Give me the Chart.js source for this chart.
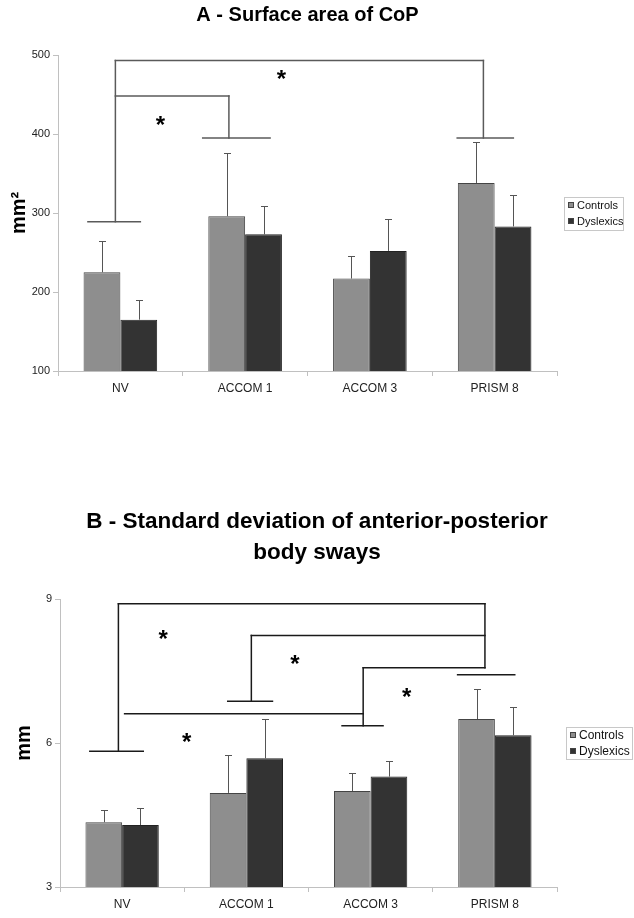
<!DOCTYPE html>
<html><head><meta charset="utf-8">
<script src="https://cdn.jsdelivr.net/npm/chart.js@4"></script>
<style>
html,body{margin:0;padding:0;background:#fff;}
#wrap{position:relative;width:634px;height:918px;}
canvas{position:absolute;left:0;}
</style></head><body>
<div id="wrap">
<canvas id="cA" width="634" height="460" style="top:0px"></canvas>
<canvas id="cB" width="634" height="458" style="top:460px"></canvas>
</div>
<script>
// ---- data ----
const categories = ['NV', 'ACCOM 1', 'ACCOM 3', 'PRISM 8'];
const seriesNames = ['Controls', 'Dyslexics'];

const surfaceControls = [225, 296, 217, 338];
const surfaceControlsErr = [39, 80, 28, 52];
const surfaceDyslexics = [165, 273, 252, 283];
const surfaceDyslexicsErr = [25, 36, 40, 40];
const surfaceTicks = [100, 200, 300, 400, 500];

const swayControls = [4.35, 4.96, 5.00, 6.50];
const swayControlsErr = [0.26, 0.80, 0.37, 0.63];
const swayDyslexics = [4.29, 5.68, 5.30, 6.16];
const swayDyslexicsErr = [0.35, 0.83, 0.33, 0.58];
const swayTicks = [3, 6, 9];

// significance brackets: segments [catIndexFrom, valueFrom, catIndexTo, valueTo]
const surfaceBrackets = [
  [-0.26, 289, 0.16, 289],
  [-0.04, 289, -0.04, 493],
  [-0.04, 493, 2.91, 493],
  [2.91, 493, 2.91, 395],
  [2.70, 395, 3.15, 395],
  [-0.04, 448, 0.87, 448],
  [0.87, 448, 0.87, 395],
  [0.66, 395, 1.20, 395]
];
const surfaceStars = [[0.32, 418], [1.29, 476]];

const swayBrackets = [
  [-0.26, 5.83, 0.17, 5.83],
  [-0.03, 5.83, -0.03, 8.90],
  [-0.03, 8.90, 2.92, 8.90],
  [2.92, 8.90, 2.92, 7.57],
  [2.70, 7.42, 3.16, 7.42],
  [1.04, 8.24, 2.92, 8.24],
  [1.04, 8.24, 1.04, 6.87],
  [0.85, 6.87, 1.21, 6.87],
  [1.94, 7.57, 2.92, 7.57],
  [1.94, 7.57, 1.94, 6.36],
  [1.77, 6.36, 2.10, 6.36],
  [0.02, 6.61, 1.94, 6.61]
];
const swayStars = [[0.33, 8.27], [1.39, 7.76], [0.52, 6.13], [2.29, 7.07]];

// ---- styles ----
const FONT = "'Liberation Sans', Arial, sans-serif";
const CONTROL_COLOR = '#8e8e8e';
const DYSLEXIC_COLOR = '#333333';

const overlayPlugin = {
  id: 'overlay',
  afterDatasetsDraw(chart, args, opts) {
    const ctx = chart.ctx, xs = chart.scales.x, ys = chart.scales.y;
    const px = v => Math.round(v) + 0.5;
    // error bars
    ctx.save();
    ctx.strokeStyle = '#555';
    ctx.lineWidth = 1;
    chart.data.datasets.forEach((ds, i) => {
      chart.getDatasetMeta(i).data.forEach((bar, j) => {
        const top = ys.getPixelForValue(ds.data[j] + ds.errors[j]);
        const bx = px(bar.x);
        ctx.beginPath();
        ctx.moveTo(bx, bar.y);
        ctx.lineTo(bx, px(top));
        ctx.moveTo(bx - 3.5, px(top));
        ctx.lineTo(bx + 3.5, px(top));
        ctx.stroke();
      });
    });
    ctx.restore();
    // brackets
    ctx.save();
    ctx.strokeStyle = opts.lineColor;
    ctx.lineWidth = opts.lineWidth;
    ctx.lineCap = 'square';
    opts.brackets.forEach(s => {
      ctx.beginPath();
      ctx.moveTo(xs.getPixelForValue(s[0]), ys.getPixelForValue(s[1]));
      ctx.lineTo(xs.getPixelForValue(s[2]), ys.getPixelForValue(s[3]));
      ctx.stroke();
    });
    ctx.fillStyle = '#000';
    ctx.font = 'bold 24px ' + FONT;
    ctx.textAlign = 'center';
    ctx.textBaseline = 'alphabetic';
    opts.stars.forEach(s => {
      ctx.fillText('*', xs.getPixelForValue(s[0]), ys.getPixelForValue(s[1]) + 0.56 * 24);
    });
    ctx.restore();
  },
  afterDraw(chart, args, opts) {
    const ctx = chart.ctx, ca = chart.chartArea;
    const lg = opts.legend;
    const cy = (ca.top + ca.bottom) / 2;
    const left = ca.right + lg.gap, top = cy - lg.h / 2;
    ctx.save();
    ctx.strokeStyle = '#c8c8c8';
    ctx.lineWidth = 1;
    ctx.strokeRect(Math.round(left) + 0.5, Math.round(top) + 0.5, lg.w, lg.h);
    ctx.font = lg.font + 'px ' + FONT;
    ctx.textBaseline = 'middle';
    ctx.textAlign = 'left';
    chart.data.datasets.forEach((ds, i) => {
      const iy = top + lg.h / 2 + (i - 0.5) * lg.step;
      ctx.fillStyle = ds.backgroundColor;
      ctx.strokeStyle = '#444';
      ctx.fillRect(Math.round(left + 4), Math.round(iy - 3), 6, 6);
      ctx.strokeRect(Math.round(left + 4) + 0.5, Math.round(iy - 3) + 0.5, 5, 5);
      ctx.fillStyle = '#111';
      ctx.fillText(ds.label, left + 13, iy + 0.5);
    });
    ctx.restore();
  }
};

function makeChart(id, cfg) {
  return new Chart(document.getElementById(id), {
    type: 'bar',
    data: {
      labels: categories,
      datasets: [
        { label: seriesNames[0], data: cfg.controls, errors: cfg.controlsErr,
          backgroundColor: CONTROL_COLOR, borderColor: '#444', borderWidth: 1,
          categoryPercentage: 0.59, barPercentage: 1.0 },
        { label: seriesNames[1], data: cfg.dyslexics, errors: cfg.dyslexicsErr,
          backgroundColor: DYSLEXIC_COLOR, borderColor: '#222', borderWidth: 1,
          categoryPercentage: 0.59, barPercentage: 1.0 }
      ]
    },
    options: {
      responsive: false,
      animation: false,
      layout: { padding: 0 },
      plugins: {
        legend: { display: false },
        tooltip: { enabled: false },
        title: {
          display: true, text: cfg.title, color: '#000', fullSize: cfg.titleFull,
          font: { family: FONT, size: cfg.titleSize, weight: 'bold', lineHeight: cfg.titleLH },
          padding: cfg.titlePad
        },
        overlay: {
          brackets: cfg.brackets, stars: cfg.stars,
          lineColor: cfg.lineColor, lineWidth: cfg.lineWidth,
          legend: cfg.legend
        }
      },
      scales: {
        x: {
          grid: { display: true, drawOnChartArea: false, tickLength: 5, color: '#c0c0c0', offset: true },
          border: { color: '#c0c0c0' },
          ticks: { color: '#222', font: { family: FONT, size: 12 }, padding: 5, maxRotation: 0 },
          afterFit(scale) { scale.height = cfg.xHeight; }
        },
        y: {
          min: cfg.min, max: cfg.max,
          afterBuildTicks(scale) { scale.ticks = cfg.ticks.map(v => ({ value: v })); },
          grid: { display: true, drawOnChartArea: false, tickLength: 5, color: '#c0c0c0' },
          border: { color: '#c0c0c0' },
          ticks: { color: '#222', font: { family: FONT, size: 11 }, padding: 3 },
          title: { display: true, text: cfg.yTitle, color: '#000',
                   font: { family: FONT, size: 20, weight: 'bold' }, padding: { top: cfg.yTitlePad, bottom: 0 } },
          afterFit(scale) { scale.width = cfg.yWidth; }
        },
        legendSpace: {
          type: 'linear', position: 'right', display: true,
          grid: { display: false }, border: { display: false }, ticks: { display: false },
          afterFit(scale) { scale.width = 77; }
        }
      }
    },
    plugins: [overlayPlugin]
  });
}

makeChart('cA', {
  title: 'A - Surface area of CoP', titleSize: 20, titleLH: 1.2, titleFull: false,
  titlePad: { top: 3, bottom: 28 },
  controls: surfaceControls, controlsErr: surfaceControlsErr,
  dyslexics: surfaceDyslexics, dyslexicsErr: surfaceDyslexicsErr,
  min: 100, max: 500, ticks: surfaceTicks,
  yTitle: 'mm²', yTitlePad: 7, yWidth: 58, xHeight: 89,
  brackets: surfaceBrackets, stars: surfaceStars,
  lineColor: '#5a5a5a', lineWidth: 1.5,
  legend: { gap: 7, w: 59, h: 33, step: 16, font: 11 }
});

makeChart('cB', {
  title: ['B - Standard deviation of anterior-posterior', 'body sways'],
  titleSize: 22.5, titleLH: 31 / 22.5, titleFull: true,
  titlePad: { top: 46.5, bottom: 30.5 },
  controls: swayControls, controlsErr: swayControlsErr,
  dyslexics: swayDyslexics, dyslexicsErr: swayDyslexicsErr,
  min: 3, max: 9, ticks: swayTicks,
  yTitle: 'mm', yTitlePad: 12, yWidth: 60, xHeight: 31,
  brackets: swayBrackets, stars: swayStars,
  lineColor: '#1a1a1a', lineWidth: 1.5,
  legend: { gap: 9, w: 66, h: 32, step: 16, font: 12 }
});
</script>
</body></html>
